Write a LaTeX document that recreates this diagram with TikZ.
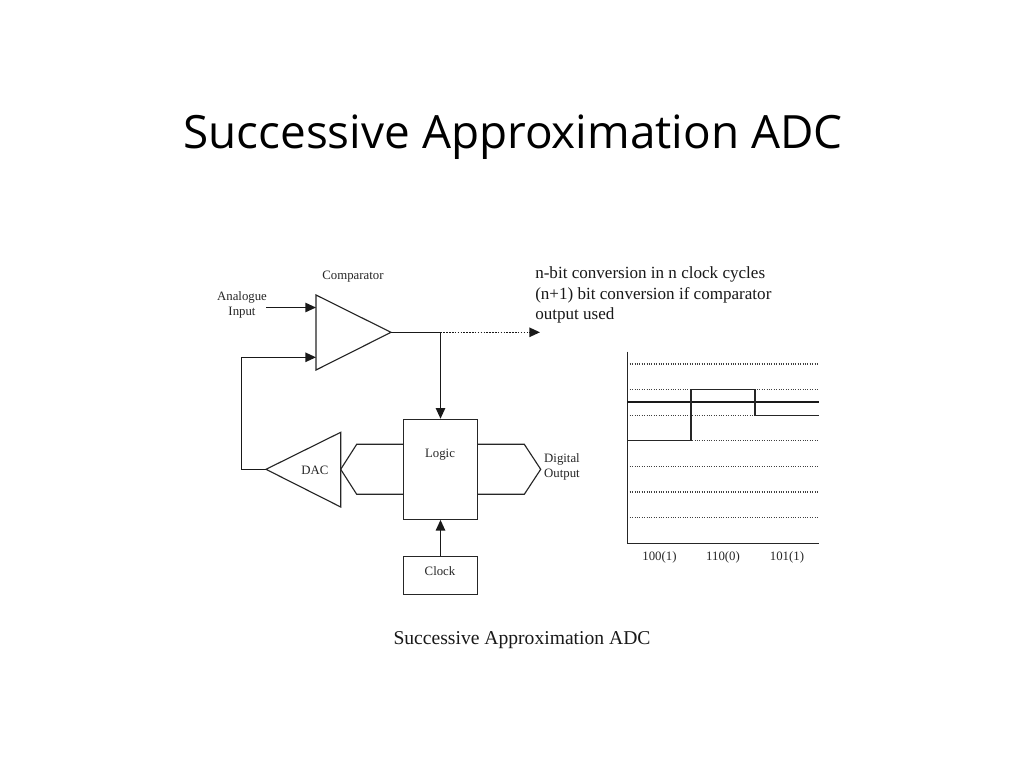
\documentclass[tikz,border=0pt]{standalone}
\usepackage{fontspec}
\setmainfont{Liberation Serif}
\newfontfamily\titlefont{Open Sans}
\usetikzlibrary{arrows.meta}
\tikzset{
  px/.style={x=0.75pt,y=-0.75pt},
  wire/.style={line width=1.15pt,black!90},
  thin wire/.style={line width=0.85pt,black!85},
  arrowed/.style={wire,-{Triangle[length=8pt,width=7pt]}},
  lab/.style={inner sep=0pt,font=\fontsize{9.6}{11.6}\selectfont,align=center,text=black!85},
  boxnode/.style={draw=black!85,line width=0.85pt,inner sep=0pt,fill=white},
  grid line/.style={line width=0.8pt,black!75,densely dotted},
  big/.style={inner sep=0pt,font=\fontsize{12.8}{15.4}\selectfont,align=left,anchor=north west,text=black!90}
}
\begin{document}
\begin{tikzpicture}[px]
\useasboundingbox (0,0) rectangle (1024,768);
\fill[white] (0,0) rectangle (1024,768);
\node[inner sep=0pt,font=\titlefont\fontsize{34.4}{36}\selectfont] (title) at (513,137) {Successive Approximation ADC};
\node[inner sep=0pt,font=\fontsize{14.7}{16}\selectfont,text=black!90] (caption) at (522,640) {Successive Approximation ADC};

% comparator
\coordinate (ct) at (316,295);
\coordinate (cb) at (316,370);
\coordinate (co) at (391,332.3);
\draw[thin wire] (ct) -- (co) -- (cb) -- cycle;
\coordinate (cin1) at (316,307.5);
\coordinate (cin2) at (316,357.3);
\coordinate (ain) at (266,307.5);
\coordinate (corner1) at (241.7,357.3);
\coordinate (corner2) at (241.7,469.3);
\coordinate (jn) at (440.5,332.3);
\coordinate (dotend) at (540,332.3);

% DAC
\coordinate (dt) at (340.7,432.3);
\coordinate (db) at (340.7,507);
\coordinate (do) at (266,469.3);
\draw[thin wire] (dt) -- (do) -- (db) -- cycle;

% buses
\coordinate (bl1) at (403.3,444.3);
\coordinate (bl2) at (356.7,444.3);
\coordinate (bl3) at (340.7,469.3);
\coordinate (bl4) at (356.7,494.3);
\coordinate (bl5) at (403.3,494.3);
\draw[thin wire] (bl1) -- (bl2) -- (bl3) -- (bl4) -- (bl5);
\coordinate (br1) at (477.7,444.3);
\coordinate (br2) at (524.3,444.3);
\coordinate (br3) at (540.7,469.3);
\coordinate (br4) at (524.3,494.3);
\coordinate (br5) at (477.7,494.3);
\draw[thin wire] (br1) -- (br2) -- (br3) -- (br4) -- (br5);

% boxes
\node[boxnode,minimum width=55.8pt,minimum height=75pt] (logic) at (440.5,469.3) {};
\node[boxnode,minimum width=55.8pt,minimum height=28.2pt] (clock) at (440.5,575.5) {};
\node[lab] (logiclab) at (440,454.5) {Logic};
\node[lab] (clocklab) at (440,571) {Clock};
\node[lab] (daclab) at (315,470.5) {DAC};
\node[lab] (complab) at (353,276.5) {Comparator};
\node[lab] (analab) at (242,305) {Analogue\\Input};
\node[lab,align=left] (diglab) at (562,467) {Digital\\Output};

% connectors
\draw[arrowed] (ain) -- (cin1);
\draw[arrowed] (do) -- (corner2) -- (corner1) -- (cin2);
\draw[wire] (co) -- (jn);
\draw[arrowed] (jn) -- (logic.north);
\draw[wire,densely dotted,-{Triangle[length=8pt,width=7pt]}] (jn) -- (dotend);
\draw[arrowed] (clock.north) -- (logic.south);

% text
\node[big] (note) at (535,266.5) {n-bit conversion in n clock cycles\\(n+1) bit conversion if comparator\\output used};

% chart
\coordinate (ax0) at (627.3,351.7);
\coordinate (ax1) at (627.3,543.3);
\coordinate (ax2) at (819,543.3);
\foreach \n/\y in {a/364,b/389.7,c/415.3,d/440.7,e/466.3,f/492,g/517.3}{
  \coordinate (l\n) at (627.3,\y);
  \coordinate (r\n) at (819,\y);
  \draw[grid line] (l\n) -- (r\n);
}
\draw[thin wire] (ax0) -- (ax1) -- (ax2);
\coordinate (th0) at (627.3,402);
\coordinate (th1) at (819,402);
\draw[line width=1.6pt,black!90] (th0) -- (th1);
\coordinate (s1) at (691,440.7);
\coordinate (s2) at (691,389.7);
\coordinate (s3) at (755,389.7);
\coordinate (s4) at (755,415.3);
\draw[thin wire] (ld) -- (s1) -- (s2) -- (s3) -- (s4) -- (rc);
\node[lab] (t1) at (659.5,557.5) {100(1)};
\node[lab] (t2) at (723,557.5) {110(0)};
\node[lab] (t3) at (787,557.5) {101(1)};
\end{tikzpicture}
\end{document}
